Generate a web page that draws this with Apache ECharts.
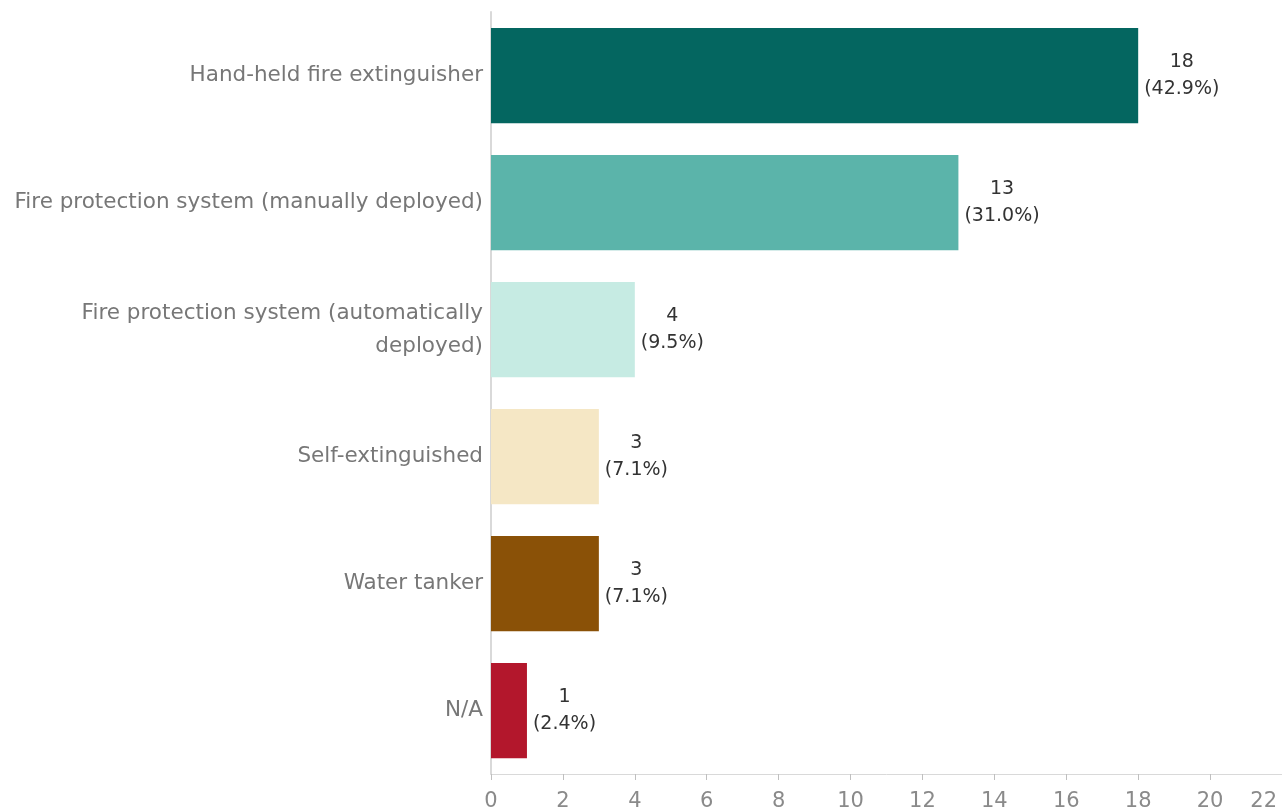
<!DOCTYPE html>
<html>
<head>
<meta charset="utf-8">
<script src="https://cdn.jsdelivr.net/npm/echarts@6/dist/echarts.min.js"></script>
<style>html,body{margin:0;padding:0;background:#fff}#c{width:1282px;height:812px}</style>
</head>
<body>
<div id="c"></div>
<script>
const categories = ["Hand-held fire extinguisher", "Fire protection system (manually deployed)", "Fire protection system (automatically\ndeployed)", "Self-extinguished", "Water tanker", "N/A"];
const counts = [18, 13, 4, 3, 3, 1];
const percents = ["42.9%", "31.0%", "9.5%", "7.1%", "7.1%", "2.4%"];
const barColors = ["#046660", "#5BB4AA", "#C6EBE3", "#F5E7C5", "#8A5107", "#B3172C"];
const xTicks = [0, 22, 2];

const FONT = 'DejaVu Sans';
const chart = echarts.init(document.getElementById('c'));
chart.setOption({
  animation: false,
  grid: { left: 491, right: -4, top: 12, bottom: 37, containLabel: false },
  xAxis: {
    type: 'value', min: xTicks[0], max: xTicks[1], interval: xTicks[2],
    axisLine: { show: true, lineStyle: { color: '#d9d9d9', width: 1 } },
    axisTick: { show: true, length: 6, lineStyle: { color: '#bfbfbf' } },
    splitLine: { show: false },
    axisLabel: {
      color: '#8a8a8a', fontSize: 21, fontFamily: FONT, margin: 17, alignMaxLabel: 'right',
      formatter: v => v === xTicks[1] ? '{m|' + v + '}' : String(v),
      rich: { m: { color: '#8a8a8a', fontSize: 21, fontFamily: FONT, padding: [0, 5, 0, 0] } }
    }
  },
  yAxis: {
    type: 'category', data: categories, inverse: true,
    axisLine: { show: true, lineStyle: { color: '#d9d9d9', width: 2 } },
    axisTick: { show: false },
    axisLabel: { color: '#777777', fontSize: 21.5, fontFamily: FONT, margin: 8, align: 'right', lineHeight: 33, padding: [5, 0, 0, 0] }
  },
  series: [{
    type: 'bar',
    data: counts.map((v, i) => ({ value: v, itemStyle: { color: barColors[i] } })),
    barCategoryGap: '25%',
    label: {
      show: true, position: 'right', distance: 6,
      formatter: p => '{v|' + p.value + '}\n{p|(' + percents[p.dataIndex] + ')}',
      rich: {
        v: { align: 'center', fontSize: 19, color: '#333', fontFamily: FONT, lineHeight: 27 },
        p: { align: 'center', fontSize: 19, color: '#333', fontFamily: FONT, lineHeight: 27 }
      }
    }
  }]
});
</script>
</body>
</html>
